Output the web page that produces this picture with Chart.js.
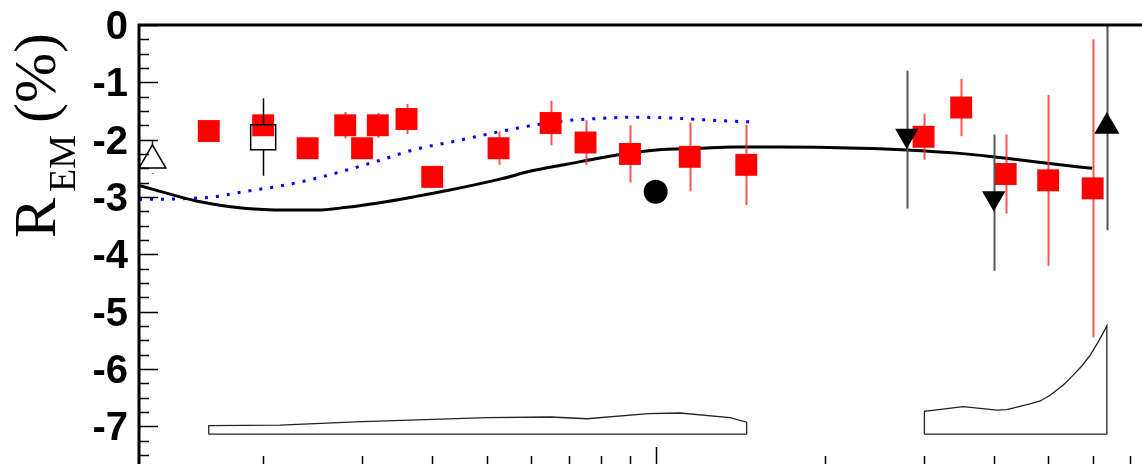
<!DOCTYPE html>
<html lang="en">
<head>
<meta charset="UTF-8">
<title>R_EM vs Q2</title>
<script src="https://cdn.jsdelivr.net/npm/chart.js"></script>
<style>
  html, body { margin: 0; padding: 0; background: #fff; overflow: hidden; }
  canvas { display: block; }
</style>
</head>
<body>
<canvas id="chart" width="1142" height="464"></canvas>
<script>
// red squares (Q2 in GeV^2, R_EM in %, stat error)
const redQ2  = [0.16, 0.20, 0.24, 0.28, 0.30, 0.32, 0.36, 0.40, 0.525, 0.65, 0.75, 0.90, 1.15, 1.45, 3.0, 3.5, 4.2, 5.0, 6.0];
const redR   = [-1.85, -1.75, -2.15, -1.75, -2.15, -1.75, -1.64, -2.65, -2.15, -1.71, -2.05, -2.25, -2.30, -2.44, -1.95, -1.44, -2.60, -2.71, -2.85];
const redErr = [0.12, 0.18, 0.12, 0.23, 0.15, 0.22, 0.26, 0.19, 0.29, 0.39, 0.39, 0.50, 0.60, 0.70, 0.40, 0.50, 0.69, 1.49, 2.60];

// other measurements
const downQ2 = [2.8, 4.0];
const downR = [-1.93, -3.02];
const downErrUp = [1.13, 1.11];
const downErrDn = [1.27, 1.27];

const upQ2 = [6.36];
const upR = [-1.77];
const upErrUp = [1.77];
const upErrDn = [1.81];

const openTriQ2 = [0.127];
const openTriR = [-2.36];
const openTriErrUp = [0.35];
const openTriErrDn = [0.24];

const openSqQ2 = [0.20];
const openSqR = [-1.96];
const openSqErrUp = [0.68];
const openSqErrDn = [0.67];

const circleQ2 = [1.0];
const circleR = [-2.91];

// model curves
const solidQ2 = [0.1202, 0.133, 0.152, 0.175, 0.200, 0.223, 0.249, 0.282, 0.323, 0.370, 0.430, 0.528, 0.605, 0.694, 0.796, 0.912, 1.046, 1.199, 1.375, 1.665, 2.31, 2.80, 3.48, 3.99, 4.58, 5.25, 5.99];
const solidR  = [-2.80, -2.92, -3.07, -3.17, -3.22, -3.23, -3.23, -3.18, -3.10, -3.00, -2.88, -2.69, -2.54, -2.43, -2.32, -2.23, -2.17, -2.15, -2.13, -2.13, -2.15, -2.18, -2.24, -2.30, -2.37, -2.44, -2.50];

const dotQ2 = [0.1202, 0.133, 0.152, 0.163, 0.187, 0.214, 0.245, 0.282, 0.323, 0.370, 0.448, 0.528, 0.622, 0.694, 0.796, 0.912, 1.046, 1.199, 1.375, 1.492];
const dotR  = [-3.04, -3.04, -3.02, -3.00, -2.90, -2.81, -2.69, -2.53, -2.36, -2.18, -2.01, -1.86, -1.73, -1.67, -1.63, -1.61, -1.62, -1.65, -1.68, -1.69];

// systematic error bands
const bandBase = -7.14;
const band1Q2  = [0.16, 0.214, 0.30, 0.402, 0.50, 0.65, 0.755, 0.97, 1.105, 1.356, 1.452];
const band1Top = [-6.99, -6.98, -6.92, -6.88, -6.85, -6.84, -6.87, -6.78, -6.77, -6.85, -6.93];
const band2Q2  = [3.01, 3.53, 4.05, 4.22, 4.64, 4.84, 5.04, 5.32, 5.54, 5.74, 5.94, 6.14, 6.36];
const band2Top = [-6.74, -6.66, -6.72, -6.71, -6.61, -6.56, -6.46, -6.28, -6.11, -5.95, -5.76, -5.53, -5.25];

// axis ticks
const yTicks = [0, -1, -2, -3, -4, -5, -6, -7];
const xMinorTicks = [0.2, 0.3, 0.4, 0.5, 0.6, 0.7, 0.8, 0.9, 2, 3, 4, 5, 6, 7];
const xMajorTicks = [1];

const pts = (xs, ys) => xs.map((x, i) => ({ x: x, y: ys[i] }));
const band = (xs, top) => [{ x: xs[0], y: bandBase }].concat(pts(xs, top), [{ x: xs[xs.length - 1], y: bandBase }, { x: xs[0], y: bandBase }]);

// error bars drawn just before each dataset's markers
const errorBars = {
    id: 'errorBars',
    beforeDatasetDraw(chart, args) {
        const ds = chart.data.datasets[args.index];
        if (!ds.errUp) return;
        const xs = chart.scales.x, ys = chart.scales.y, a = chart.chartArea;
        const ctx = chart.ctx;
        ctx.save();
        ctx.beginPath();
        ctx.rect(a.left, a.top, a.right - a.left, a.bottom - a.top);
        ctx.clip();
        ctx.strokeStyle = ds.errColor;
        ctx.lineWidth = ds.errWidth;
        ds.data.forEach((p, i) => {
            const px = Math.round(xs.getPixelForValue(p.x)) + 0.5;
            const py = ys.getPixelForValue(p.y);
            const top = ys.getPixelForValue(p.y + ds.errUp[i]);
            const bot = ys.getPixelForValue(p.y - ds.errDn[i]);
            const gap = ds.errGap || 0;
            ctx.beginPath();
            ctx.moveTo(px, top);
            ctx.lineTo(px, py - gap);
            ctx.moveTo(px, py + gap);
            ctx.lineTo(px, bot);
            ctx.stroke();
        });
        ctx.restore();
    }
};

// frame, inward tick marks and the y title
const frame = {
    id: 'frame',
    afterDraw(chart) {
        const ctx = chart.ctx, a = chart.chartArea;
        const xs = chart.scales.x, ys = chart.scales.y;
        ctx.save();
        ctx.strokeStyle = '#000';
        ctx.lineWidth = 1.5;
        ctx.beginPath();
        for (let k = 0; k < yTicks.length; k++) {
            for (let m = 0; m < 4; m++) {
                const v = yTicks[k] - m * 0.25;
                if (v < ys.min) continue;
                const py = Math.round(ys.getPixelForValue(v)) + 0.5;
                ctx.moveTo(a.left, py);
                ctx.lineTo(a.left + (m === 0 ? 19 : 10), py);
            }
        }
        xMinorTicks.forEach(v => {
            const px = Math.round(xs.getPixelForValue(v)) + 0.5;
            ctx.moveTo(px, a.bottom);
            ctx.lineTo(px, a.bottom - 8);
        });
        xMajorTicks.forEach(v => {
            const px = Math.round(xs.getPixelForValue(v)) + 0.5;
            ctx.moveTo(px, a.bottom);
            ctx.lineTo(px, a.bottom - 17);
        });
        ctx.stroke();

        ctx.lineWidth = 3;
        ctx.beginPath();
        ctx.moveTo(a.left, a.bottom);
        ctx.lineTo(a.left, a.top);
        ctx.lineTo(a.right, a.top);
        ctx.stroke();

        // R_EM (%)
        ctx.translate(55, 238);
        ctx.rotate(-Math.PI / 2);
        ctx.fillStyle = '#000';
        ctx.textBaseline = 'alphabetic';
        ctx.textAlign = 'left';
        ctx.font = '60px "Liberation Serif", "Times New Roman", serif';
        ctx.fillText('R', 0, 0);
        ctx.font = '38px "Liberation Serif", "Times New Roman", serif';
        ctx.fillText('EM', 46, 20);
        ctx.font = '60px "Liberation Serif", "Times New Roman", serif';
        ctx.fillText('(%)', 115, 0);
        ctx.restore();
    }
};

const ctx = document.getElementById('chart').getContext('2d');

new Chart(ctx, {
    type: 'scatter',
    data: {
        datasets: [
            {
                label: 'circle',
                data: pts(circleQ2, circleR),
                pointStyle: 'circle', pointRadius: 12,
                backgroundColor: '#000', borderColor: '#000', borderWidth: 0
            },
            {
                label: 'open triangle',
                data: pts(openTriQ2, openTriR),
                errUp: openTriErrUp, errDn: openTriErrDn, errColor: '#333', errWidth: 1.5, errGap: 13,
                pointStyle: 'triangle', pointRadius: 15.5,
                backgroundColor: '#fff', borderColor: '#000', borderWidth: 1.5
            },
            {
                label: 'open square',
                data: pts(openSqQ2, openSqR),
                errUp: openSqErrUp, errDn: openSqErrDn, errColor: '#000', errWidth: 1.5, errGap: 12.5,
                pointStyle: 'rect', pointRadius: 17.7,
                backgroundColor: 'rgba(0,0,0,0)', borderColor: '#000', borderWidth: 1.5
            },
            {
                label: 'down triangles',
                data: pts(downQ2, downR),
                errUp: downErrUp, errDn: downErrDn, errColor: '#555', errWidth: 2,
                pointStyle: 'triangle', pointRotation: 180, pointRadius: 13.5,
                backgroundColor: '#000', borderColor: '#000', borderWidth: 0
            },
            {
                label: 'up triangle',
                data: pts(upQ2, upR),
                errUp: upErrUp, errDn: upErrDn, errColor: '#555', errWidth: 2,
                pointStyle: 'triangle', pointRadius: 14.5,
                backgroundColor: '#000', borderColor: '#000', borderWidth: 0
            },
            {
                label: 'red squares',
                data: pts(redQ2, redR),
                errUp: redErr, errDn: redErr, errColor: 'rgba(255,40,40,0.8)', errWidth: 2,
                pointStyle: 'rect', pointRadius: 15.5,
                backgroundColor: '#ff0000', borderColor: '#ff0000', borderWidth: 0
            },
            {
                label: 'solid model',
                data: pts(solidQ2, solidR),
                showLine: true, pointRadius: 0, borderColor: '#000', borderWidth: 3,
                cubicInterpolationMode: 'monotone'
            },
            {
                label: 'dotted model',
                data: pts(dotQ2, dotR),
                showLine: true, pointRadius: 0, borderColor: '#0000ff', borderWidth: 3,
                borderDash: [3, 8], borderCapStyle: 'butt',
                cubicInterpolationMode: 'monotone'
            },
            {
                label: 'band 1',
                data: band(band1Q2, band1Top),
                showLine: true, pointRadius: 0, borderColor: '#222', borderWidth: 1.3, tension: 0
            },
            {
                label: 'band 2',
                data: band(band2Q2, band2Top),
                showLine: true, pointRadius: 0, borderColor: '#222', borderWidth: 1.3, tension: 0
            }
        ]
    },
    options: {
        responsive: false,
        animation: false,
        layout: { autoPadding: false, padding: { top: 25, left: 0, right: 0, bottom: 0 } },
        plugins: {
            legend: { display: false },
            tooltip: { enabled: false }
        },
        scales: {
            x: {
                type: 'logarithmic',
                min: 0.1202,
                max: 7.346,
                display: false
            },
            y: {
                min: -7.66,
                max: 0,
                grid: { display: false, drawTicks: false },
                border: { display: false },
                afterBuildTicks: s => { s.ticks = yTicks.map(v => ({ value: v })); },
                afterFit: s => { s.width = 139; s.paddingTop = 0; s.paddingBottom = 0; },
                ticks: {
                    color: '#000',
                    padding: 11,
                    labelOffset: 3,
                    font: { family: '"Liberation Sans", Arial, sans-serif', size: 40, weight: 'bold' },
                    callback: v => String(v)
                }
            }
        }
    },
    plugins: [errorBars, frame]
});
</script>
</body>
</html>
